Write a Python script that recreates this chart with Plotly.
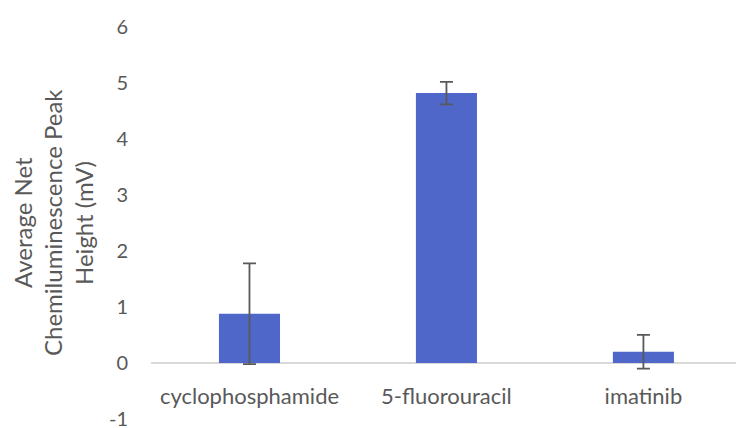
import plotly.graph_objects as go

categories = ["cyclophosphamide", "5-fluorouracil", "imatinib"]
values = [0.88, 4.82, 0.2]
errors = [0.9, 0.2, 0.3]
title_lines = ["Average Net", "Chemiluminescence Peak", "Height (mV)"]
y_ticks = [-1, 0, 1, 2, 3, 4, 5, 6]
y_tick_labels = ["-1", "0", "1", "2", "3", "4", "5", "6"]

FONT = "Lato"
GREY = "#595959"
W, H = 736, 428
ML, MR, MT, MB = 151, 0, 27, 9

fig = go.Figure()
fig.add_trace(go.Bar(
    x=categories, y=values,
    marker=dict(color="#4E67C8", line=dict(width=0)),
    error_y=dict(type="data", array=errors, visible=True,
                 color=GREY, thickness=1.8, width=6.5),
))

fig.update_layout(
    width=W, height=H,
    margin=dict(l=ML, r=MR, t=MT, b=MB, pad=0, autoexpand=False),
    paper_bgcolor="white", plot_bgcolor="white",
    bargap=0.69,
    showlegend=False,
    font=dict(family=FONT, color=GREY, size=21),
    xaxis=dict(
        range=[-0.5, 2.47], showgrid=False, showline=False, zeroline=False,
        anchor="free", position=1/7, automargin=False,
        ticks="outside", ticklen=14, tickcolor="rgba(0,0,0,0)",
        tickfont=dict(family=FONT, color=GREY, size=22),
    ),
    yaxis=dict(
        range=[-1.001, 6.001], tickvals=y_ticks, ticktext=y_tick_labels,
        showgrid=False, showline=False, automargin=False,
        zeroline=True, zerolinecolor="#D9D9D9", zerolinewidth=1.5,
        ticklabelstandoff=22, ticklabeloverflow="allow",
        tickfont=dict(family=FONT, color=GREY, size=20),
    ),
)

plot_w = W - ML - MR
for px, txt in zip([22, 52, 83], title_lines):
    fig.add_annotation(
        text=txt, xref="paper", yref="paper",
        x=(px - ML) / plot_w, y=0.5, xanchor="center", yanchor="middle",
        textangle=-90, showarrow=False,
        font=dict(family=FONT, color=GREY, size=24),
    )

fig.write_html("out.html")
